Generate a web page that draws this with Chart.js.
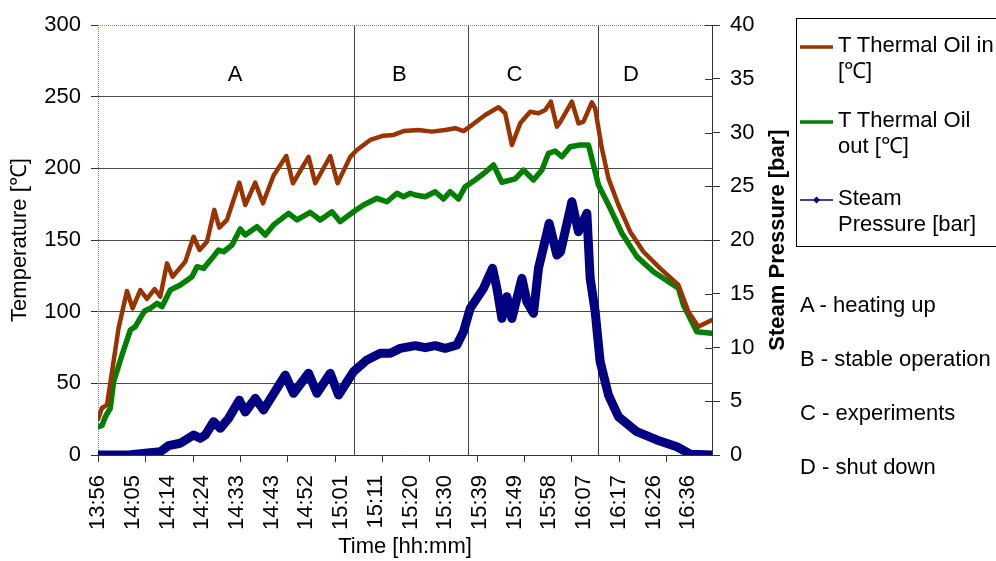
<!DOCTYPE html>
<html lang="en">
<head>
  <meta charset="UTF-8" />
  <title>Thermal oil temperatures and steam pressure</title>
  <script src="https://cdn.jsdelivr.net/npm/chart.js"></script>
  <style>
    body { margin: 0; background: #fff; overflow: hidden; font-family: 'Liberation Sans', Arial, sans-serif; color: #000; }
    .wrap { position: relative; width: 996px; height: 561px; }
    #legend { position: absolute; left: 796px; top: 18px; width: 230px; height: 229px; border: 1px solid #000; box-sizing: border-box; }
    #legend .item { position: absolute; left: 0; font-size: 22px; line-height: 26px; white-space: pre-line; }
    #legend .item:nth-child(1) { top: 13px; }
    #legend .item:nth-child(2) { top: 88px; }
    #legend .item:nth-child(3) { top: 166px; }
    #legend .text { position: absolute; left: 41px; top: 0; width: 200px; }
    #legend .sample { position: absolute; left: 3px; top: 11px; width: 33px; }
    #phases { position: absolute; left: 800px; top: 292px; font-size: 22px; line-height: 26px; }
    #phases div { height: 54px; white-space: nowrap; }
  </style>
</head>
<body>
  <div class="wrap">
    <canvas id="chart" width="996" height="561"></canvas>
    <div id="legend"></div>
    <div id="phases"></div>
  </div>

  <script>
    // time axis: minutes after 13:56
    const timeLabels = ["13:56", "14:05", "14:14", "14:24", "14:33", "14:43", "14:52", "15:01", "15:11",
      "15:20", "15:30", "15:39", "15:49", "15:58", "16:07", "16:17", "16:26", "16:36"];
    const labelStep = 9.4167;     // minutes between time labels
    const tickMarkStep = 12.84;   // minutes between tick marks
    const timeMax = 166.5;

    const tempTicks = [0, 50, 100, 150, 200, 250, 300];
    const pressureTicks = [0, 5, 10, 15, 20, 25, 30, 35, 40];

    // T Thermal Oil in [C]
    const minutesIn = [0, 1.08, 2.44, 3.8, 5.58, 7.86, 9.38, 11.47, 13.28, 15.34, 16.89, 18.71, 20.22, 23.67,
      25.92, 27.54, 29.55, 31.53, 32.89, 34.97, 38.31, 39.93, 42.64, 44.73, 47.61, 51.05, 52.86, 57.09, 58.91,
      62.98, 64.96, 68.4, 70.21, 73.82, 77.43, 80.14, 82.85, 86.92, 90.55, 94.15, 96.86, 99.11, 101.39, 105.0,
      108.6, 110.42, 112.24, 114.49, 117.2, 119.45, 121.26, 122.81, 124.43, 125.42, 128.5, 130.29, 131.65,
      133.92, 134.82, 136.63, 138.42, 141.13, 144.31, 147.91, 152.44, 157.4, 160.11, 162.82, 164.63, 166.46];
    const tempIn = [25, 32.8, 35, 58, 88.6, 114.4, 102.3, 115, 109, 115.8, 110.5, 133.7, 124.4, 134.9,
      152.3, 143, 148.8, 171, 158.6, 164, 190, 174.4, 190, 175.6, 195, 208.6, 189.6, 208, 189.6,
      208.6, 189.6, 208, 212.8, 219.8, 222.8, 223.3, 226, 226.7, 225.6, 226.7, 228, 226, 230.2, 237.2,
      242.6, 238.4, 216.3, 231.4, 239.5, 238.4, 240.7, 246.5, 229, 232.6, 246.5, 231.4, 232.6,
      246, 241.9, 214, 193, 174.4, 155.8, 141.8, 130.2, 118.6, 100, 89.5, 91.9, 94.2];

    // T Thermal Oil out [C]
    const minutesOut = [0, 1.08, 1.98, 3.33, 4.23, 6.51, 8.76, 10.11, 12.63, 14.18, 16.0, 17.35, 19.6, 22.31,
      25.48, 26.84, 28.63, 30.91, 32.69, 34.05, 36.33, 38.58, 39.93, 43.1, 45.36, 47.61, 51.67, 53.95, 57.55,
      60.27, 63.44, 65.69, 69.29, 72.0, 75.64, 78.35, 81.06, 82.85, 84.67, 86.02, 88.73, 91.44, 93.69, 95.51,
      97.76, 99.57, 102.28, 104.99, 107.25, 109.52, 113.13, 115.38, 118.09, 120.37, 122.16, 123.97, 125.79,
      128.04, 130.75, 133.0, 134.36, 135.71, 138.88, 142.06, 146.12, 150.62, 156.04, 157.4, 158.76, 162.39, 166.46];
    const tempOut = [19.8, 20.5, 26.7, 32.6, 51.1, 69.8, 87.2, 89.5, 100.5, 102.3, 105.8, 103.5, 115.1, 118.6,
      124.4, 131.4, 130.2, 137.2, 143, 141.8, 146.5, 157.7, 153.5, 159.3, 153.5, 160.5, 168.6, 164, 169.3,
      164, 169.7, 162.8, 169.7, 174.4, 179.1, 176.7, 182.6, 180.2, 182.6, 181.4, 180.2, 183.7, 178.6, 183.7,
      178.6, 187.2, 191.9, 197.2, 202.3, 190.3, 192.6, 198.8, 191.9, 198.8, 210.5, 212.1, 208.1,
      215.1, 216.3, 216.3, 202.3, 188.4, 172.1, 154.7, 138.4, 127.9, 118.6, 116.3, 104.7, 86, 84.9];

    // Steam Pressure [bar]
    const minutesSteam = [0, 8.3, 12.82, 16.89, 19.14, 22.31, 25.92, 27.73, 29.09, 31.34, 33.16, 35.41, 38.31,
      39.93, 42.64, 44.89, 50.78, 53.03, 57.09, 59.37, 62.98, 65.23, 69.29, 72.93, 76.53, 79.24, 81.95, 86.02,
      88.73, 91.44, 94.15, 97.32, 99.11, 100.93, 104.54, 106.98, 108.17, 109.52, 110.88, 112.24, 114.95, 116.3,
      118.09, 119.45, 122.35, 124.43, 125.42, 128.5, 130.29, 132.57, 133.46, 134.82, 136.17, 138.42, 141.13,
      146.12, 151.54, 156.97, 160.63, 166.5];
    const steamPressure = [0, 0, 0.16, 0.3, 0.87, 1.09, 1.86, 1.55, 1.86, 3.1, 2.48, 3.41, 5.1,
      4.0, 5.27, 4.19, 7.44, 5.74, 7.6, 5.74, 7.6, 5.58, 7.75, 8.84, 9.46, 9.46, 9.92, 10.17,
      9.98, 10.17, 9.92, 10.23, 11.47, 13.64, 15.5, 17.37, 15.5, 12.71, 14.73, 12.71, 16.44, 14.26,
      13.18, 17.37, 21.55, 18.6, 18.9, 23.56, 20.77, 22.48, 16.44, 13.33, 8.68, 5.58, 3.56,
      2.17, 1.4, 0.77, 0.07, 0];

    // operating phases
    const phaseNames = ["A", "B", "C", "D"];
    const phaseTexts = ["heating up", "stable operation", "experiments", "shut down"];
    const phaseBounds = [69.5, 100.3, 135.6];
    const phaseLabelMinutes = [37.2, 81.7, 112.9, 144.5];
    const phaseLabelTemp = 265;

    const FONT = "'Liberation Sans', Arial, sans-serif";
    Chart.defaults.font.family = FONT;
    Chart.defaults.font.size = 22;
    Chart.defaults.color = '#000';

    const toPoints = (xs, ys) => xs.map((m, i) => ({ x: m, y: ys[i] }));

    // phase lines, phase letters, extra tick marks and the right axis title
    const overlay = {
      id: 'overlay',
      beforeDatasetsDraw(chart) {
        const { ctx, chartArea: a, scales: { x, y } } = chart;
        ctx.save();
        ctx.strokeStyle = '#444';
        ctx.lineWidth = 1;
        phaseBounds.forEach(m => {
          const px = Math.round(x.getPixelForValue(m)) + 0.5;
          ctx.beginPath(); ctx.moveTo(px, a.top); ctx.lineTo(px, a.bottom); ctx.stroke();
        });
        ctx.fillStyle = '#000';
        ctx.font = '22px ' + FONT;
        ctx.textAlign = 'center';
        ctx.textBaseline = 'middle';
        phaseNames.forEach((n, i) => {
          ctx.fillText(n, x.getPixelForValue(phaseLabelMinutes[i]), y.getPixelForValue(phaseLabelTemp));
        });
        // dotted frame on top and left, as in the selected plot area
        ctx.strokeStyle = '#7a7ae0';
        ctx.setLineDash([1, 1]);
        ctx.beginPath(); ctx.moveTo(a.left, a.top + 0.5); ctx.lineTo(a.right, a.top + 0.5); ctx.stroke();
        ctx.beginPath(); ctx.moveTo(a.left + 0.5, a.top); ctx.lineTo(a.left + 0.5, a.bottom); ctx.stroke();
        ctx.restore();
      },
      afterDraw(chart) {
        const { ctx, chartArea: a, scales: { x, y2 } } = chart;
        ctx.save();
        ctx.strokeStyle = '#333';
        ctx.lineWidth = 1;
        for (let m = 0; m <= timeMax; m += tickMarkStep) {
          const px = Math.round(x.getPixelForValue(m)) + 0.5;
          ctx.beginPath(); ctx.moveTo(px, a.bottom); ctx.lineTo(px, a.bottom + 7); ctx.stroke();
        }
        y2.ticks.forEach(t => {
          const py = Math.round(y2.getPixelForValue(t.value)) + 0.5;
          ctx.beginPath(); ctx.moveTo(a.right - 7, py); ctx.lineTo(a.right, py); ctx.stroke();
        });
        ctx.translate(y2.right - 8, (a.top + a.bottom) / 2);
        ctx.rotate(-Math.PI / 2);
        ctx.fillStyle = '#000';
        ctx.font = 'bold 22px ' + FONT;
        ctx.textAlign = 'center';
        ctx.textBaseline = 'middle';
        ctx.fillText('Steam Pressure [bar]', 0, 0);
        ctx.restore();
      }
    };

    const chart = new Chart(document.getElementById('chart'), {
      type: 'line',
      data: {
        datasets: [
          {
            label: 'T Thermal Oil in\n[℃]',
            data: toPoints(minutesIn, tempIn),
            borderColor: '#993300',
            borderWidth: 4.5,
            yAxisID: 'y'
          },
          {
            label: 'T Thermal Oil\nout [℃]',
            data: toPoints(minutesOut, tempOut),
            borderColor: '#008000',
            borderWidth: 5.5,
            yAxisID: 'y'
          },
          {
            label: 'Steam\nPressure [bar]',
            data: toPoints(minutesSteam, steamPressure),
            borderColor: '#000080',
            backgroundColor: '#000080',
            borderWidth: 9,
            yAxisID: 'y2'
          }
        ]
      },
      options: {
        responsive: false,
        animation: false,
        layout: { padding: { top: 25, right: 210, bottom: 0, left: 0 } },
        elements: {
          point: { radius: 0 },
          line: { tension: 0, borderJoinStyle: 'round', borderCapStyle: 'round' }
        },
        scales: {
          x: {
            type: 'linear',
            min: 0,
            max: timeMax,
            afterBuildTicks: s => { s.ticks = timeLabels.map((t, i) => ({ value: i * labelStep })); },
            afterFit: s => { s.height = 106; },
            ticks: {
              autoSkip: false,
              minRotation: 90,
              maxRotation: 90,
              padding: 20,
              callback: (v, i) => timeLabels[i]
            },
            grid: { display: false, drawTicks: false },
            border: { display: true, color: '#333', width: 1 },
            title: { display: true, text: 'Time [hh:mm]', padding: { top: 0, bottom: 1 } }
          },
          y: {
            min: 0,
            max: 300,
            afterBuildTicks: s => { s.ticks = tempTicks.map(v => ({ value: v })); },
            afterFit: s => { s.width = 98; },
            ticks: { padding: 10 },
            grid: {
              color: ctx => (ctx.tick && (ctx.tick.value === 300 || ctx.tick.value === 0) ? 'rgba(0,0,0,0)' : '#4a4a4a'),
              tickColor: '#333',
              tickLength: 7
            },
            border: { display: false },
            title: { display: true, text: 'Temperature [℃]', padding: { top: 7, bottom: 0 } }
          },
          y2: {
            position: 'right',
            min: 0,
            max: 40,
            afterBuildTicks: s => { s.ticks = pressureTicks.map(v => ({ value: v })); },
            afterFit: s => { s.width = 74; },
            ticks: { padding: 10 },
            grid: { drawOnChartArea: false, tickColor: '#333', tickLength: 8 },
            border: { display: true, color: '#333', width: 1 },
            title: { display: false }
          }
        },
        plugins: {
          legend: { display: false },
          tooltip: { enabled: false }
        }
      },
      plugins: [overlay]
    });

    // legend built from the datasets
    const legendBox = document.getElementById('legend');
    chart.data.datasets.forEach((ds, i) => {
      const item = document.createElement('div');
      item.className = 'item';
      const marker = i === 2
        ? '<svg class="sample" height="8" viewBox="0 0 33 8"><line x1="0" y1="4" x2="33" y2="4" stroke="' + ds.borderColor + '" stroke-width="1.5"/><path d="M16.5 0.5 L20 4 L16.5 7.5 L13 4 Z" fill="' + ds.borderColor + '"/></svg>'
        : '<svg class="sample" height="8" viewBox="0 0 33 8"><line x1="0" y1="4" x2="33" y2="4" stroke="' + ds.borderColor + '" stroke-width="3.5"/></svg>';
      item.innerHTML = marker + '<div class="text"></div>';
      item.querySelector('.text').textContent = ds.label;
      legendBox.appendChild(item);
    });

    const phaseBox = document.getElementById('phases');
    phaseNames.forEach((n, i) => {
      const row = document.createElement('div');
      row.textContent = n + ' - ' + phaseTexts[i];
      phaseBox.appendChild(row);
    });
  </script>
</body>
</html>
